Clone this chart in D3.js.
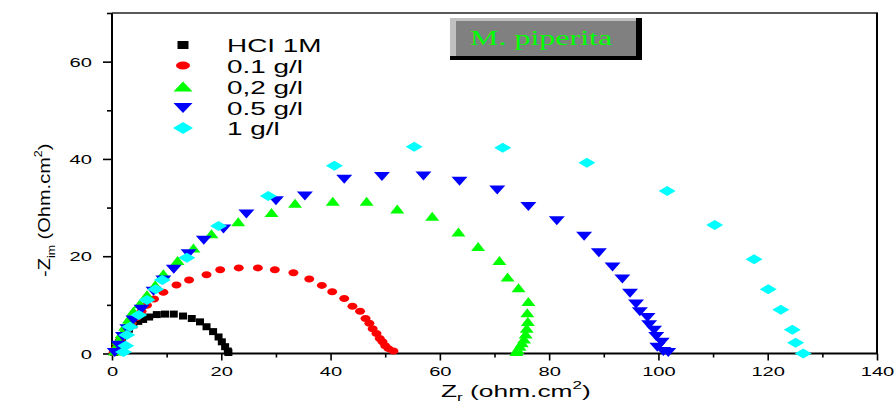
<!DOCTYPE html>
<html>
<head>
<meta charset="utf-8">
<script src="https://cdn.jsdelivr.net/npm/d3@7"></script>
<style>
  body { margin: 0; background: #fff; }
  svg { display: block; }
</style>
</head>
<body>
<svg id="chart" width="895" height="405"></svg>
<script>
// series names (legend order)
var seriesNames = ["HCl 1M", "0.1 g/l", "0,2 g/l", "0.5 g/l", "1 g/l"];
var legendLabels = ["HCI 1M", "0.1 g/l", "0,2 g/l", "0.5 g/l", "1 g/l"];

// Nyquist points [Zr, -Zim]
var hclData = [[0.4,0.2],[0.6,0.8],[0.9,1.5],[1.3,2.3],[1.8,3.2],[2.4,4.1],[3.1,5.0],[3.9,5.9],
  [4.8,6.6],[5.7,7.0],[6.8,7.5],[8.2,8.0],[9.7,8.1],[11.3,8.1],[13.0,7.7],[14.6,7.2],[16.1,6.5],
  [17.3,5.5],[18.5,4.5],[19.5,3.4],[20.1,2.4],[20.7,1.4],[21.2,0.5],[21.3,0.2]];
var g01Data = [[0.3,0.2],[0.6,0.9],[1.0,1.8],[1.5,2.8],[2.1,3.9],[2.8,5.0],[3.6,6.2],[4.5,7.4],
  [5.4,8.7],[6.4,9.9],[7.7,11.2],[9.4,12.6],[11.8,14.1],[14.1,15.1],[17.3,16.2],[19.8,17.2],
  [23.2,17.6],[26.7,17.6],[29.8,17.2],[33.2,16.6],[36.1,15.3],[38.4,14.0],[40.3,12.7],[42.5,11.3],
  [44.0,9.7],[45.4,8.7],[46.4,7.2],[47.1,6.2],[47.7,5.1],[48.4,4.1],[49.0,3.1],[49.5,2.4],
  [50.0,1.6],[50.6,1.0],[51.5,0.5]];
var g02Data = [[0.5,0.4],[0.8,1.4],[1.2,2.6],[1.8,4.0],[2.4,5.5],[3.1,7.0],[3.9,8.6],[5.1,10.1],
  [6.4,12.0],[7.9,14.0],[9.4,16.3],[12.0,19.0],[14.9,21.6],[18.2,24.5],[23.1,27.0],[29.2,28.9],
  [33.5,30.8],[40.4,31.2],[46.6,31.2],[52.2,29.6],[58.6,28.1],[63.4,24.9],[67.0,21.9],[70.9,19.0],
  [72.4,15.6],[74.4,13.4],[76.2,10.6],[76.0,8.3],[76.1,6.5],[75.9,5.1],[75.7,3.9],[75.4,2.9],
  [75.0,2.1],[74.6,1.4],[74.2,0.7],[74.0,0.3]];
var g05Data = [[0.5,0.3],[1.2,1.8],[2.0,3.6],[2.8,5.2],[3.9,7.0],[5.4,9.2],[7.6,12.9],[9.4,15.2],
  [11.3,17.4],[14.0,20.6],[16.8,23.4],[20.4,25.7],[24.6,28.8],[30.0,31.5],[35.3,32.5],[42.5,35.9],
  [49.4,36.5],[57.0,36.6],[63.6,35.5],[70.5,33.7],[76.2,30.3],[81.4,27.4],[86.4,24.2],[89.1,20.8],
  [91.6,17.9],[93.4,15.4],[94.8,12.5],[95.9,10.3],[96.6,8.7],[98.0,7.5],[98.3,6.0],[99.2,4.9],
  [99.6,3.6],[100.6,2.4],[99.8,1.4],[100.9,0.5],[101.8,0.3]];
var g1Data = [[2.1,0.3],[2.5,1.6],[2.7,3.8],[3.3,5.5],[4.9,7.9],[6.4,11.0],[8.0,13.2],[9.2,15.1],
  [13.7,19.7],[19.5,26.2],[28.6,32.4],[40.7,38.6],[55.3,42.5],[71.5,42.3],[86.9,39.2],[101.6,33.4],
  [110.3,26.4],[117.5,19.4],[120.1,13.2],[122.4,9.0],[124.5,4.9],[125.1,2.2],[126.5,0.0]];

var xTicks = [0, 20, 40, 60, 80, 100, 120, 140];
var yTicks = [0, 20, 40, 60];
var allSeries = [hclData, g01Data, g02Data, g05Data, g1Data];

var colors = ["#000000", "#ff0000", "#00ff00", "#0000ff", "#00ffff"];
var shapes = ["square", "circle", "up", "down", "diamond"];
var SX = 1.55; // the original text is stretched horizontally

var svg = d3.select("#chart");
var x = d3.scaleLinear().domain([0, 140]).range([112, 877]);
var y = d3.scaleLinear().domain([0, 70]).range([353.5, 13]);

// marker path, w x h centred on 0,0
function marker(shape, w, h){
    var a = w/2, b = h/2;
    if (shape == "square") return "M"+(-a)+","+(-b)+"h"+w+"v"+h+"h"+(-w)+"Z";
    if (shape == "up") return "M0,"+(-b-0.5)+"L"+a+","+(b-0.5)+"L"+(-a)+","+(b-0.5)+"Z";
    if (shape == "down") return "M"+(-a)+","+(-b+0.5)+"L"+a+","+(-b+0.5)+"L0,"+(b+0.5)+"Z";
    if (shape == "diamond") return "M0,"+(-b)+"L"+a+",0L0,"+b+"L"+(-a)+",0Z";
    // ellipse
    return "M"+(-a)+",0A"+a+","+b+" 0 1,0 "+a+",0A"+a+","+b+" 0 1,0 "+(-a)+",0Z";
}
var markSize = { square: [8, 7], circle: [10, 7], up: [14, 9], down: [16, 9], diamond: [17, 10] };
var legSize = { square: [11, 8], circle: [14, 8], up: [19, 10], down: [19, 10], diamond: [20, 12] };

// axes
var xAxis = d3.axisBottom(x).tickValues(d3.range(0, 141, 10)).tickSize(4).tickPadding(3)
    .tickFormat(function(d){ return xTicks.indexOf(d) >= 0 ? d : ""; });
var gx = svg.append("g").attr("transform", "translate(0," + y(0) + ")").call(xAxis);
gx.selectAll(".tick line").attr("y2", function(d){ return xTicks.indexOf(d) >= 0 ? 7 : 4; });

var yAxis = d3.axisLeft(y).tickValues(d3.range(0, 71, 10)).tickSize(5)
    .tickFormat(function(d){ return yTicks.indexOf(d) >= 0 ? d : ""; });
var gy = svg.append("g").attr("transform", "translate(" + x(0) + ",0)").call(yAxis);
gy.selectAll(".tick line").attr("x2", function(d){ return yTicks.indexOf(d) >= 0 ? -9 : -5; });

[gx, gy].forEach(function(g){
    g.select(".domain").remove();
    g.selectAll(".tick line").attr("stroke", "#000").attr("stroke-width", 1.6);
    g.selectAll("text").attr("font-family", "Liberation Sans, Arial, sans-serif")
        .attr("font-size", 13).attr("fill", "#000");
});
gx.selectAll("text").attr("y", 13).attr("dy", "0.71em")
    .attr("transform", "scale(" + SX + ",1)");
gy.selectAll("text").attr("x", -20 / SX).attr("dy", "0.36em")
    .attr("transform", "scale(" + SX + ",1)");

// frame
svg.append("line").attr("x1", x(0)).attr("x2", x(0)).attr("y1", y(70)).attr("y2", y(0) + 1)
    .attr("stroke", "#000").attr("stroke-width", 2);
svg.append("line").attr("x1", x(0) - 1).attr("x2", x(140) + 1).attr("y1", y(0)).attr("y2", y(0))
    .attr("stroke", "#000").attr("stroke-width", 2);
svg.append("line").attr("x1", x(0)).attr("x2", x(140) + 1).attr("y1", y(70)).attr("y2", y(70))
    .attr("stroke", "#222").attr("stroke-width", 1.5);
svg.append("line").attr("x1", x(140)).attr("x2", x(140)).attr("y1", y(70)).attr("y2", y(0))
    .attr("stroke", "#000").attr("stroke-width", 2);

// points
allSeries.forEach(function(data, i){
    var s = shapes[i];
    svg.append("g").selectAll("path")
        .data(data)
        .enter()
        .append("path")
        .attr("d", marker(s, markSize[s][0], markSize[s][1]))
        .attr("transform", function(d){ return "translate(" + x(d[0]) + "," + y(d[1]) + ")"; })
        .attr("fill", colors[i]);
});

// legend
var legY = [45, 65.5, 87, 107.5, 128];
legendLabels.forEach(function(lbl, i){
    var s = shapes[i];
    svg.append("path")
        .attr("d", marker(s, legSize[s][0], legSize[s][1]))
        .attr("transform", "translate(183," + legY[i] + ")")
        .attr("fill", colors[i]);
    svg.append("text")
        .attr("transform", "translate(227," + (legY[i] + 7) + ") scale(" + SX + ",1)")
        .attr("font-family", "Liberation Sans, Arial, sans-serif")
        .attr("font-size", 18)
        .text(lbl);
});

// title box
svg.append("rect").attr("x", 450).attr("y", 18).attr("width", 192).attr("height", 42).attr("fill", "#000");
svg.append("rect").attr("x", 450).attr("y", 18).attr("width", 186).attr("height", 38).attr("fill", "#c0c0c0");
svg.append("rect").attr("x", 456).attr("y", 21).attr("width", 180).attr("height", 35).attr("fill", "#808080");
svg.append("text")
    .attr("transform", "translate(470,45) scale(1.6,1)")
    .attr("font-family", "Liberation Serif, Times New Roman, serif")
    .attr("font-size", 20)
    .attr("fill", "#00ff00")
    .text("M. piperita");

// axis titles
var xt = svg.append("text")
    .attr("transform", "translate(441,397) scale(" + SX + ",1)")
    .attr("font-family", "Liberation Sans, Arial, sans-serif")
    .attr("font-size", 17);
xt.append("tspan").text("Z");
xt.append("tspan").attr("font-size", 11).attr("dy", 4).text("r");
xt.append("tspan").attr("dy", -4).text(" (ohm.cm");
xt.append("tspan").attr("font-size", 11).attr("dy", -8).text("2");
xt.append("tspan").attr("dy", 8).text(")");

var yt = svg.append("text")
    .attr("transform", "translate(50,277) rotate(-90) scale(1.25,1)")
    .attr("font-family", "Liberation Sans, Arial, sans-serif")
    .attr("font-size", 16);
yt.append("tspan").text("-Z");
yt.append("tspan").attr("font-size", 10).attr("dy", 5).text("im");
yt.append("tspan").attr("dy", -5).text(" (Ohm.cm");
yt.append("tspan").attr("font-size", 10).attr("dy", -8).text("2");
yt.append("tspan").attr("dy", 8).text(")");
</script>
</body>
</html>
